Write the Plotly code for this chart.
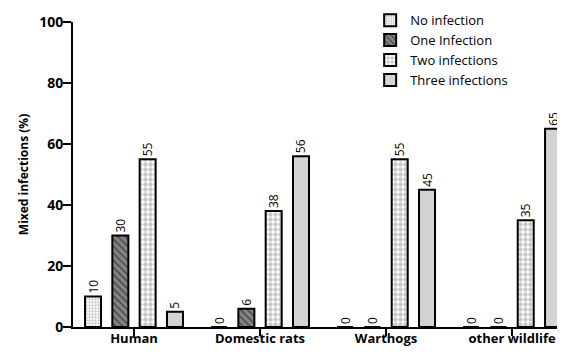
import plotly.graph_objects as go

categories = ["Human", "Domestic rats", "Warthogs", "other wildlife"]
no_infection = [10, 0, 0, 0]
one_infection = [30, 6, 0, 0]
two_infections = [55, 38, 55, 35]
three_infections = [5, 56, 45, 65]
series_names = ["No infection", "One Infection", "Two infections", "Three infections"]
y_ticks = [0, 20, 40, 60, 80, 100]

FONT = "Open Sans"

styles = [
    dict(color="#dddddd", pattern=dict(shape=".", fgcolor="#8a8a8a", bgcolor="#ffffff", size=3, solidity=0.45)),
    dict(color="#808080", pattern=dict(shape="\\", fgcolor="#1a1a1a", bgcolor="#858585", size=5, solidity=0.35)),
    dict(color="#ffffff", pattern=dict(shape=".", fgcolor="#8f8f8f", bgcolor="#ffffff", size=5, solidity=0.6)),
    dict(color="#d3d3d3", pattern=dict(shape="")),
]

fig = go.Figure()
for name, vals, st in zip(series_names, [no_infection, one_infection, two_infections, three_infections], styles):
    fig.add_trace(go.Bar(
        x=categories, y=vals, name=name,
        marker=dict(color=st["color"], pattern=st["pattern"], line=dict(color="black", width=2)),
        text=[str(v) for v in vals], textposition="outside", textangle=-90,
        textfont=dict(family=FONT, size=12, color="black"),
        cliponaxis=False,
    ))

# page has an 8px body margin; figure is sized/offset to compensate
fig.update_layout(
    width=557, height=344,
    margin=dict(l=65, r=0, t=14, b=25, autoexpand=False),
    plot_bgcolor="white", paper_bgcolor="white",
    barmode="group", bargap=0.133, bargroupgap=0.414,
    font=dict(family=FONT, color="black"),
    showlegend=True,
    legend=dict(x=0.604, y=1.055, xanchor="left", yanchor="top",
                font=dict(family=FONT, size=13, color="black"),
                bgcolor="rgba(0,0,0,0)", tracegroupgap=0),
    xaxis=dict(range=[-0.484, 3.42], showline=True, linecolor="black", linewidth=2,
               ticks="outside", ticklen=7, tickwidth=2, tickcolor="black",
               ticklabelstandoff=-9,
               tickfont=dict(family=FONT, size=13, color="black", weight="bold"),
               showgrid=False, zeroline=False, automargin=False),
    yaxis=dict(range=[0, 100], tickvals=y_ticks, showline=True, linecolor="black", linewidth=2,
               ticks="outside", ticklen=8, tickwidth=2, tickcolor="black",
               ticklabelstandoff=-3,
               tickfont=dict(family=FONT, size=14, color="black", weight="bold"),
               title=dict(text="Mixed infections (%)", font=dict(family=FONT, size=12, color="black", weight="bold"), standoff=8),
               showgrid=False, zeroline=False, automargin=False),
)

fig.write_html("out.html")
